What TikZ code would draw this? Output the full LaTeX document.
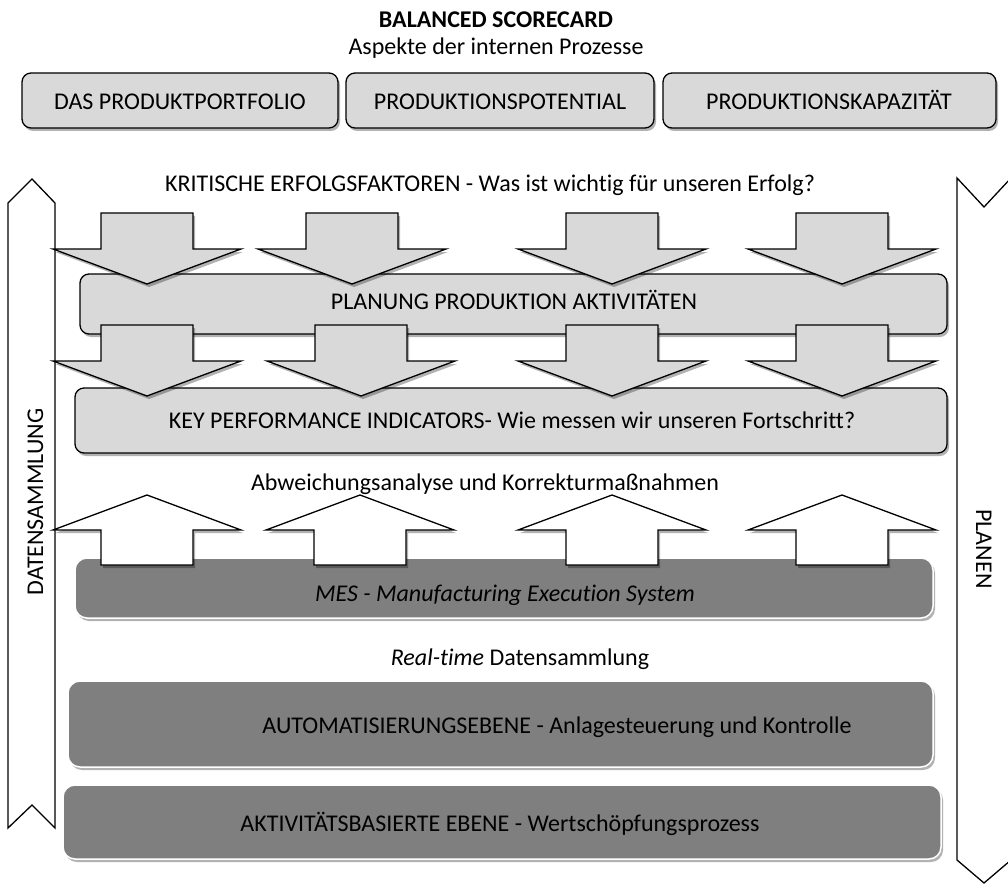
\documentclass[tikz,border=0pt]{standalone}
\usepackage{fontspec}
\setmainfont{Carlito}[Ligatures=NoCommon]
\usetikzlibrary{shadows}
\definecolor{boxlight}{HTML}{D9D9D9}
\definecolor{boxdark}{HTML}{7F7F7F}

\begin{document}
\begin{tikzpicture}[x=1pt,y=-1pt,
  font=\fontsize{24}{28}\selectfont,
  softshadow/.style={drop shadow={shadow xshift=2pt, shadow yshift=-3pt, opacity=.3, fill=black}},
  lightbox/.style={draw=black, line width=1.3pt, fill=boxlight, rounded corners=9pt, inner sep=0pt, softshadow},
  darkbox/.style={draw=white, line width=1.5pt, fill=boxdark, rounded corners=12pt, inner sep=0pt, softshadow},
  arrowbody/.style={draw=black, line width=1.3pt, line join=miter},
  sidearrow/.style={draw=black, line width=1.3pt, fill=white},
  txt/.style={inner sep=0pt, anchor=base},
  downarr/.pic={\path[arrowbody, fill=boxlight, softshadow]
    (-46,0) -- (46,0) -- (46,36) -- (94,36) -- (0,71) -- (-94,36) -- (-46,36) -- cycle;},
  uparr/.pic={\path[arrowbody, fill=white, softshadow]
    (-46,70) -- (46,70) -- (46,35) -- (94,35) -- (0,0) -- (-94,35) -- (-46,35) -- cycle;},
]
\useasboundingbox (0,0) rectangle (1008,885);

% side arrows: data collection (up) and planning (down)
\path[sidearrow] (8,203) -- (32,179) -- (55,203) -- (55,828) -- (32,805) -- (8,828) -- cycle;
\path[sidearrow] (957,178) -- (984,207) -- (1011,178) -- (1011,860) -- (984,883) -- (957,860) -- cycle;
\node[txt, rotate=90] (dat) at (43,502) {DATENSAMMLUNG};
\node[txt, rotate=-90] (plx) at (976,549) {PLANEN};

% header
\node[txt, font=\fontsize{24}{28}\selectfont\bfseries] (title) at (496,28) {BALANCED SCORECARD};
\node[txt] (sub) at (496,55) {Aspekte der internen Prozesse};

% internal process aspects
\node[lightbox, minimum width=316pt, minimum height=55pt] (pf) at (180,100.5) {};
\node[lightbox, minimum width=308pt, minimum height=55pt] (pp) at (500,100.5) {};
\node[lightbox, minimum width=333pt, minimum height=55pt] (pk) at (829.5,100.5) {};
\node[txt] (pft) at (180,110) {DAS PRODUKTPORTFOLIO};
\node[txt] (ppt) at (500,110) {PRODUKTIONSPOTENTIAL};
\node[txt] (pkt) at (829,110) {PRODUKTIONSKAPAZITÄT};

\node[txt] (krit) at (490,192) {KRITISCHE ERFOLGSFAKTOREN - Was ist wichtig für unseren Erfolg?};

% planning and KPI layers
\node[lightbox, minimum width=867pt, minimum height=60pt] (plan) at (513.5,304) {};
\node[lightbox, minimum width=872pt, minimum height=65pt] (kpi) at (511,420.5) {};

% downward arrows
\pic at (147,213) {downarr};
\pic at (352,213) {downarr};
\pic at (612,213) {downarr};
\pic at (842,213) {downarr};
\pic at (147,325) {downarr};
\pic at (361,325) {downarr};
\pic at (612,325) {downarr};
\pic at (842,325) {downarr};

\node[txt] (plant) at (514,309) {PLANUNG PRODUKTION AKTIVITÄTEN};
\node[txt] (kpit) at (512,428) {KEY PERFORMANCE INDICATORS- Wie messen wir unseren Fortschritt?};

\node[txt] (abw) at (485,490) {Abweichungsanalyse und Korrekturmaßnahmen};

% execution layer
\node[darkbox, minimum width=858pt, minimum height=60pt] (mes) at (504,588) {};
\pic at (147,495) {uparr};
\pic at (360,495) {uparr};
\pic at (612,495) {uparr};
\pic at (842,495) {uparr};
\node[txt] (mest) at (505,601) {\itshape MES - Manufacturing Execution System};

\node[txt] (rt) at (520,665) {\textit{Real-time} Datensammlung};

\node[darkbox, minimum width=865pt, minimum height=86pt] (auto) at (500.5,724) {};
\node[txt] (autot) at (557,733) {AUTOMATISIERUNGSEBENE - Anlagesteuerung und Kontrolle};
\node[darkbox, minimum width=878pt, minimum height=74pt] (akt) at (502,822) {};
\node[txt] (aktt) at (500,831) {AKTIVITÄTSBASIERTE EBENE - Wertschöpfungsprozess};
\end{tikzpicture}
\end{document}
